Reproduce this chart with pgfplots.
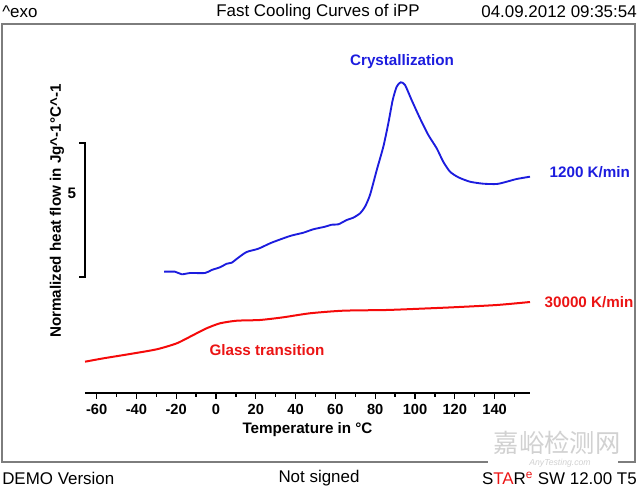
\documentclass[border=0pt]{standalone}
\usepackage{pgfplots}
\pgfplotsset{compat=1.18}
\usepackage{fontspec}
\setmainfont{Liberation Sans}
\newfontfamily\cjk{Noto Sans CJK SC}
\definecolor{cblue}{RGB}{28,28,222}
\definecolor{cred}{RGB}{245,10,10}
\definecolor{tred}{RGB}{235,20,20}
\definecolor{framegray}{RGB}{125,125,125}
\newcommand\hf{\fontsize{12.7}{15}\selectfont}
\newcommand\lf{\fontsize{11.4}{13}\selectfont\bfseries}
\begin{document}
\begin{tikzpicture}[x=0.75pt,y=0.75pt]
\path[use as bounding box] (0,0) rectangle (640,488);
% frame
\draw[framegray,line width=1.1pt] (2,26) rectangle (635,464);
\begin{axis}[
  at={(63.75pt,71.25pt)}, anchor=south west,
  scale only axis, width=333.75pt, height=276.75pt,
  xmin=-65.83, xmax=157.79, ymin=-4.328, ymax=9.440,
  axis x line*=bottom, axis y line=none,
  x axis line style={line width=1.2pt,black},
  xtick={-60,-40,-20,0,20,40,60,80,100,120,140},
  xticklabels={-60,-40,-20,0,20,40,60,80,100,120,140},
  minor xtick={-50,-30,-10,10,30,50,70,90,110,130,150},
  xtick align=outside,
  major tick length=4.5pt, minor tick length=3pt,
  every tick/.style={black,line width=1pt},
  xticklabel style={font=\fontsize{11}{13}\selectfont\bfseries, yshift=-0.5pt},
  xlabel={Temperature in °C},
  xlabel style={font=\lf, yshift=1pt},
  clip=false,
]
\addplot[cblue, line width=1.4pt, smooth, tension=0.4] coordinates {
(-26.1,0.198) (-20.6,0.198) (-17.2,0.101) (-13.1,0.149) (-5.5,0.149) (-2.2,0.261)
(2.0,0.362) (5.4,0.496) (7.9,0.534) (11.2,0.720) (15.4,0.933) (21.3,1.056)
(27.9,1.280) (37.2,1.530) (43.9,1.653) (48.9,1.780) (54.8,1.877) (58.1,1.951)
(61.5,1.966) (65.7,2.127) (69.0,2.213) (72.4,2.377) (74.9,2.627) (77.4,3.063)
(80.8,3.996) (84.1,4.866) (86.6,5.735) (88.8,6.604) (90.8,7.101) (92.8,7.265)
(95.0,7.164) (98.3,6.604) (102.5,5.922) (106.7,5.299) (110.9,4.802) (114.2,4.302)
(117.6,3.929) (121.8,3.720) (127.6,3.556) (134.3,3.481) (141.1,3.470) (146.1,3.556)
(151.1,3.657) (157.8,3.743)
};
\addplot[cred, line width=1.5pt, smooth, tension=0.4] coordinates {
(-65.8,-3.160) (-56.6,-3.035) (-43.2,-2.873) (-29.8,-2.698) (-19.7,-2.474)
(-11.4,-2.164) (-4.7,-1.914) (2.0,-1.728) (10.4,-1.631) (22.1,-1.604)
(33.8,-1.504) (47.2,-1.354) (64.0,-1.257) (85.8,-1.231) (102.5,-1.183)
(119.2,-1.130) (141.1,-1.045) (157.8,-0.933)
};
% y scale bar
\draw[black,line width=1.2pt] (axis cs:-68.8,5) -- (axis cs:-65.83,5) -- (axis cs:-65.83,0) -- (axis cs:-68.8,0);
\node[font=\lf] at (axis cs:-72.4,3.13) {5};
\node[font=\lf, rotate=90] at (axis cs:-79.9,2.46) {Normalized heat flow in Jg\textasciicircum-1°C\textasciicircum-1};
% annotations
\node[font=\lf, text=cblue] at (axis cs:93.5,8.02) {Crystallization};
\node[font=\lf, text=cblue, anchor=west] at (axis cs:165.3,3.92) {1200 K/min};
\node[font=\lf, text=tred, anchor=west] at (axis cs:162.8,-0.93) {30000 K/min};
\node[font=\lf, text=tred] at (axis cs:25.6,-2.72) {Glass transition};
\end{axis}
% header
\node[font=\hf, anchor=west, inner sep=0pt] at (2,476) {\textasciicircum exo};
\node[font=\hf, inner sep=0pt] at (318,476) {Fast Cooling Curves of iPP};
\node[font=\hf, anchor=east, inner sep=0pt] at (637,476) {04.09.2012 09:35:54};
% watermark
\fill[white] (488,20) rectangle (618,50);
\node[font=\cjk\fontsize{19}{21}\selectfont, text=black!18, inner sep=0pt] at (557,45) {嘉峪检测网};
\node[font=\fontsize{6.5}{7}\selectfont\itshape, text=black!18, inner sep=0pt] at (560,25) {AnyTesting.com};
% footer
\node[font=\hf, anchor=west, inner sep=0pt] at (2,10) {DEMO Version};
\node[font=\hf, inner sep=0pt] at (319,10) {Not signed};
\node[font=\hf, anchor=east, inner sep=0pt] at (637,10) {S\textcolor{tred}{TA}R\textsuperscript{\textcolor{tred}{e}} SW 12.00 T5};
\end{tikzpicture}
\end{document}
